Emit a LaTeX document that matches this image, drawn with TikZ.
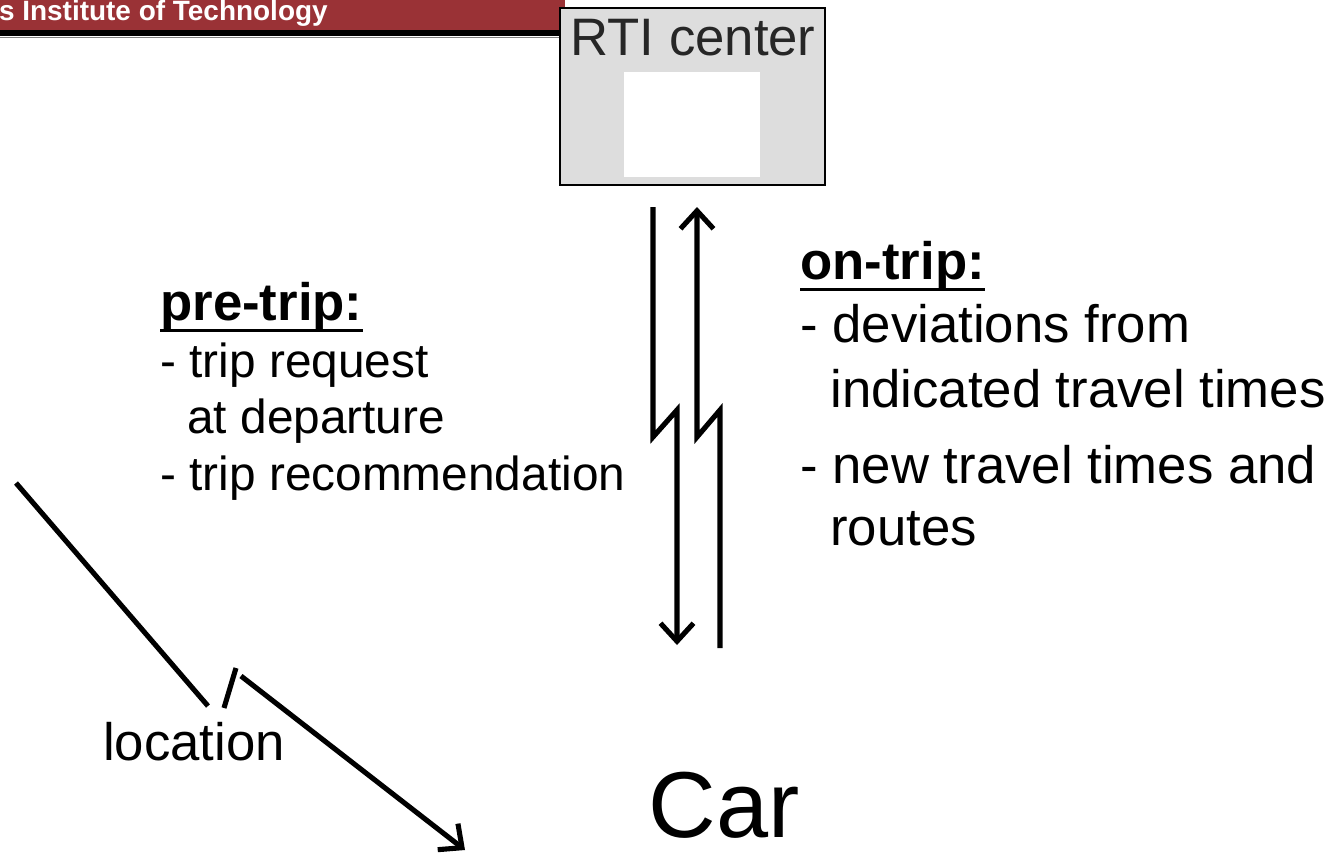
\documentclass[tikz,border=0pt]{standalone}
\usepackage{fontspec}
\setmainfont{Liberation Sans}
\usetikzlibrary{arrows.meta}
\definecolor{banner}{HTML}{9A3236}
\definecolor{boxgray}{HTML}{DDDDDD}

\begin{document}
\begin{tikzpicture}[x=0.2mm,y=-0.2mm,
	txt/.style={font=\fontsize{30}{36}\selectfont,inner sep=0pt,anchor=base west},
	item/.style={font=\fontsize{27.2}{32}\selectfont,inner sep=0pt,anchor=base west},
	head/.style={font=\fontsize{30}{36}\selectfont\bfseries,inner sep=0pt,anchor=base west},
	link/.style={line width=2.9pt,-{Straight Barb[length=3.6mm,width=6.6mm]}}]
	\useasboundingbox (0,0) rectangle (1338,852);
	% banner
	\fill[banner] (0,0) rectangle (565,30);
	\fill[black] (0,30) rectangle (560,36);
	\draw[gray,line width=0.6pt] (0,37.5) -- (560,37.5);
	\node[anchor=base east,inner sep=0pt,text=white,font=\fontsize{15.9}{17}\selectfont\bfseries] (inst) at (328,20.5) {s Institute of Technology};
	% RTI center
	\node[draw,fill=boxgray,line width=1.2pt,minimum width=53mm,minimum height=35.4mm,inner sep=0pt] (rti) at (692.5,96.5) {};
	\fill[white] (624,72) rectangle (760,177);
	\node[txt,anchor=base,text=black!85] (rtilabel) at (693,55) {RTI center};
	% car
	\node[font=\fontsize{53.3}{60}\selectfont,inner sep=0pt,anchor=base] (car) at (724,837) {Car};
	% links
	\coordinate (dnA) at (653,207);
	\coordinate (dnB) at (677,645);
	\coordinate (upA) at (720,648);
	\coordinate (upB) at (697,207);
	\draw[link] (dnA) -- (dnA |- 0,437) -- (dnB |- 0,410) -- (dnB);
	\draw[link] (upA) -- (upA |- 0,410) -- (upB |- 0,437) -- (upB);
	% pre-trip
	\node[head] (pre) at (160,320) {pre-trip:};
	\draw[line width=1.7pt] ([yshift=-6pt]pre.base west) -- ([yshift=-6pt]pre.base east);
	\node[item] (preA) at (160,377) {- trip request};
	\node[item] (preB) at (187,433) {at departure};
	\node[item] (preC) at (160,490) {- trip recommendation};
	% on-trip
	\node[head] (on) at (800,279) {on-trip:};
	\draw[line width=1.7pt] ([yshift=-6pt]on.base west) -- ([yshift=-6pt]on.base east);
	\node[txt] (onA) at (800,342) {- deviations from};
	\node[txt] (onB) at (830,407) {indicated travel times};
	\node[txt] (onC) at (800,483) {- new travel times and};
	\node[txt] (onD) at (830,545) {routes};
	% location
	\node[txt,anchor=base] (loc) at (194,760) {location};
	\coordinate (locA) at (16,483);
	\coordinate (locB) at (208,706);
	\coordinate (locC) at (241,676);
	\coordinate (locD) at (465,850);
	\draw[line width=2.9pt] (locA) -- (locB);
	\draw[line width=2.9pt] (224,708) -- (236,668);
	\draw[link] (locC) -- (locD);
\end{tikzpicture}
\end{document}
